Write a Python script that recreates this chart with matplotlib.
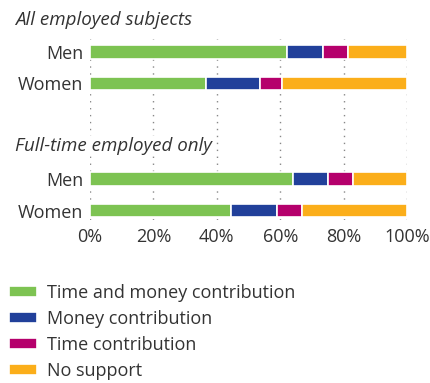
import matplotlib.pyplot as plt
import numpy as np

plt.rcParams['font.family'] = ['Open Sans', 'DejaVu Sans']

groups = ['All employed subjects', 'Full-time employed only']
rows = ['Men', 'Women']
series = ['Time and money contribution', 'Money contribution',
          'Time contribution', 'No support']
colors = ['#7dc352', '#21409a', '#b5006c', '#fbae1a']

# percentages, rows: all-men, all-women, ft-men, ft-women
time_money = [62, 36.5, 64, 44.5]
money = [11.5, 17, 11, 14.5]
time_only = [8, 7, 8, 8]
no_support = [18.5, 39.5, 17, 33]
values = [time_money, money, time_only, no_support]

txt = '#333333'

fig = plt.figure(figsize=(4.3, 3.83), dpi=100)
ax = fig.add_axes([90 / 430, 1 - 220 / 383, 317 / 430, 181 / 383])

ypos = np.array([0, 1, 4.03, 5.03])
left = np.zeros(4)
for vals, col, lab in zip(values, colors, series):
    ax.barh(ypos, vals, left=left, height=0.43, color=col,
            edgecolor='white', linewidth=1.2, label=lab, zorder=3)
    left += np.array(vals)

ax.set_xlim(0, 100)
ax.set_ylim(5.33, -0.41)
ax.set_yticks(ypos)
ax.set_yticklabels(rows * 2, fontsize=13, color=txt)
ax.set_xticks(np.arange(0, 101, 20))
ax.set_xticklabels([f'{v}%' for v in range(0, 101, 20)], fontsize=13, color=txt)
ax.tick_params(length=0, pad=5)
ax.tick_params(axis='x', pad=6)
for s in ax.spines.values():
    s.set_visible(False)
ax.grid(axis='x', linestyle=(0, (1, 4)), color='#888888', linewidth=1, zorder=0)

for g, yy in zip(groups, [20, 146]):
    fig.text(15 / 430, 1 - yy / 383, g, style='italic', fontsize=13.5, color=txt,
             va='center', ha='left',
             bbox=dict(facecolor='white', edgecolor='none', pad=1))

fig.legend(loc='upper left', bbox_to_anchor=(9 / 430, 1 - 284 / 383),
           frameon=False, fontsize=13, labelcolor=txt,
           borderpad=0, borderaxespad=0,
           handlelength=1.55, handleheight=0.55, handletextpad=0.55,
           labelspacing=0.44)

fig.savefig('out.png', dpi=100)
